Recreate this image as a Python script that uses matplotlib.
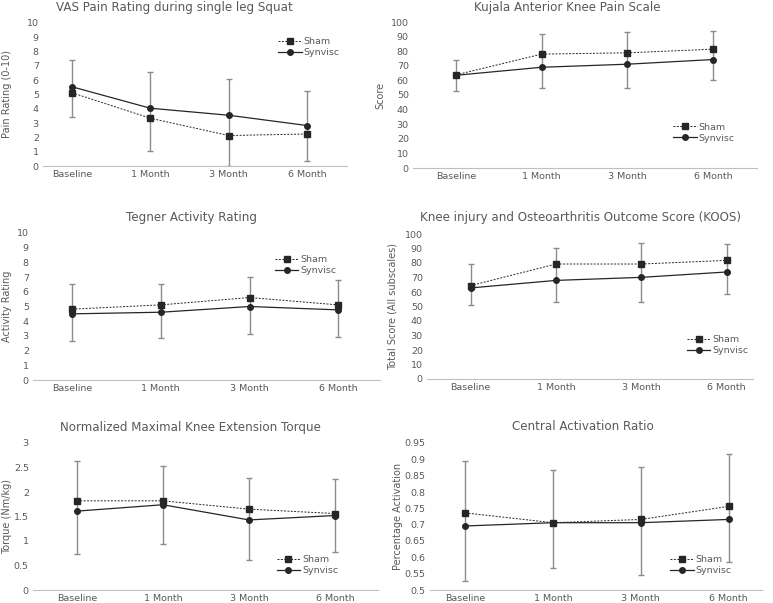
import matplotlib
matplotlib.use("Agg")
import matplotlib.pyplot as plt
import numpy as np

plt.rcParams['font.family'] = ['DejaVu Sans']

W, H = 773, 603
timepoints = ['Baseline', '1 Month', '3 Month', '6 Month']

# --- data ---
vas_sham = [5.12, 3.34, 2.13, 2.24]
vas_synvisc = [5.54, 4.04, 3.55, 2.83]
vas_err_lo = [3.43, 1.03, 0.02, 0.33]
vas_err_hi = [7.43, 6.54, 6.05, 5.23]

kujala_sham = [63.8, 78.0, 78.9, 81.4]
kujala_synvisc = [63.5, 69.0, 71.1, 74.3]
kujala_err_lo = [52.8, 54.8, 54.8, 60.6]
kujala_err_hi = [74.3, 91.5, 93.1, 93.8]

tegner_sham = [4.82, 5.11, 5.61, 5.11]
tegner_synvisc = [4.50, 4.61, 5.00, 4.77]
tegner_err_lo = [2.66, 2.84, 3.11, 2.90]
tegner_err_hi = [6.52, 6.52, 7.00, 6.77]

koos_sham = [64.4, 79.3, 79.3, 81.8]
koos_synvisc = [62.8, 68.0, 70.1, 73.8]
koos_err_lo = [51.3, 53.1, 53.1, 58.6]
koos_err_hi = [79.5, 90.6, 93.8, 93.1]

torque_sham = [1.82, 1.82, 1.65, 1.56]
torque_synvisc = [1.61, 1.74, 1.43, 1.52]
torque_err_lo = [0.73, 0.94, 0.61, 0.78]
torque_err_hi = [2.63, 2.53, 2.28, 2.26]

car_sham = [0.736, 0.706, 0.716, 0.756]
car_synvisc = [0.696, 0.706, 0.706, 0.716]
car_err_lo = [0.527, 0.568, 0.547, 0.586]
car_err_hi = [0.895, 0.866, 0.876, 0.916]

# layout in pixels: box = (left, right, top, bottom) of the plot area
panels = [
    dict(box=(43, 347, 23, 166), xlim=(-0.37, 3.51), ylim=(0, 10), yticks=np.arange(0, 11, 1),
         title='VAS Pain Rating during single leg Squat', tx=174, ty=7,
         ylabel='Pain Rating (0-10)', lx=7, leg=(0.773, 0.90),
         sham=vas_sham, syn=vas_synvisc, lo=vas_err_lo, hi=vas_err_hi),
    dict(box=(413, 757, 22, 168), xlim=(-0.5, 3.51), ylim=(0, 100), yticks=np.arange(0, 101, 10),
         title='Kujala Anterior Knee Pain Scale', tx=567, ty=7,
         ylabel='Score', lx=380, leg=(0.756, 0.31),
         sham=kujala_sham, syn=kujala_synvisc, lo=kujala_err_lo, hi=kujala_err_hi),
    dict(box=(33, 380, 233, 380), xlim=(-0.44, 3.47), ylim=(0, 10), yticks=np.arange(0, 11, 1),
         title='Tegner Activity Rating', tx=192, ty=218,
         ylabel='Activity Rating', lx=7, leg=(0.697, 0.85),
         sham=tegner_sham, syn=tegner_synvisc, lo=tegner_err_lo, hi=tegner_err_hi),
    dict(box=(427, 753, 234, 379), xlim=(-0.51, 3.31), ylim=(0, 100), yticks=np.arange(0, 101, 10),
         title='Knee injury and Osteoarthritis Outcome Score (KOOS)', tx=581, ty=218,
         ylabel='Total Score (All subscales)', lx=393, leg=(0.797, 0.30),
         sham=koos_sham, syn=koos_synvisc, lo=koos_err_lo, hi=koos_err_hi),
    dict(box=(33, 378, 443, 590), xlim=(-0.51, 3.5), ylim=(0, 3), yticks=np.arange(0, 3.01, 0.5),
         title='Normalized Maximal Knee Extension Torque', tx=190, ty=427,
         ylabel='Torque (Nm/kg)', lx=7, leg=(0.706, 0.235),
         sham=torque_sham, syn=torque_synvisc, lo=torque_err_lo, hi=torque_err_hi),
    dict(box=(430, 762, 443, 590), xlim=(-0.4, 3.38), ylim=(0.5, 0.95), yticks=np.arange(0.5, 0.951, 0.05),
         title='Central Activation Ratio', tx=583, ty=427,
         ylabel='Percentage Activation', lx=398, leg=(0.723, 0.235),
         sham=car_sham, syn=car_synvisc, lo=car_err_lo, hi=car_err_hi),
]

text_col = '#595959'
line_col = '#262626'
err_col = '#8c8c8c'

fig = plt.figure(figsize=(W / 100, H / 100), dpi=100)

x = np.arange(len(timepoints))
for p in panels:
    l, r, t, b = p['box']
    ax = fig.add_axes([l / W, 1 - b / H, (r - l) / W, (b - t) / H])

    sham = np.array(p['sham'])
    # one error bar per time point spanning the reported range
    ax.errorbar(x, sham, yerr=[sham - np.array(p['lo']), np.array(p['hi']) - sham],
                fmt='none', ecolor=err_col, elinewidth=1, capsize=2, capthick=1, zorder=2)
    ax.plot(x, p['sham'], color=line_col, linestyle=(0, (2, 1.5)), linewidth=0.7,
            marker='s', markersize=4, label='Sham', zorder=3)
    ax.plot(x, p['syn'], color=line_col, linestyle='-', linewidth=0.9,
            marker='o', markersize=4, label='Synvisc', zorder=3)

    ax.set_xlim(*p['xlim'])
    ax.set_ylim(*p['ylim'])
    ax.set_xticks(x)
    ax.set_xticklabels(timepoints)
    ax.set_yticks(p['yticks'])
    ax.set_yticklabels(['%g' % round(v, 2) for v in p['yticks']])
    ax.tick_params(length=0, labelsize=6.8, colors=text_col, pad=3)
    ax.tick_params(axis='x', pad=3)
    for s in ['top', 'right', 'left']:
        ax.spines[s].set_visible(False)
    ax.spines['bottom'].set_color('#bfbfbf')
    ax.spines['bottom'].set_linewidth(0.8)

    # ylabel x coordinate is the right edge of the rotated text
    ax.set_ylabel(p['ylabel'], fontsize=7, color=text_col)
    ax.yaxis.set_label_coords((p['lx'] + 5 - l) / (r - l), 0.5)

    fig.text(p['tx'] / W, 1 - p['ty'] / H, p['title'], fontsize=8.6, color=text_col,
             ha='center', va='center')

    ax.legend(loc='upper left', bbox_to_anchor=p['leg'], frameon=False, fontsize=6.8,
              handlelength=2.5, handletextpad=0.2, labelspacing=0.2, borderpad=0,
              borderaxespad=0, labelcolor=text_col)

fig.savefig('out.png', dpi=100)
